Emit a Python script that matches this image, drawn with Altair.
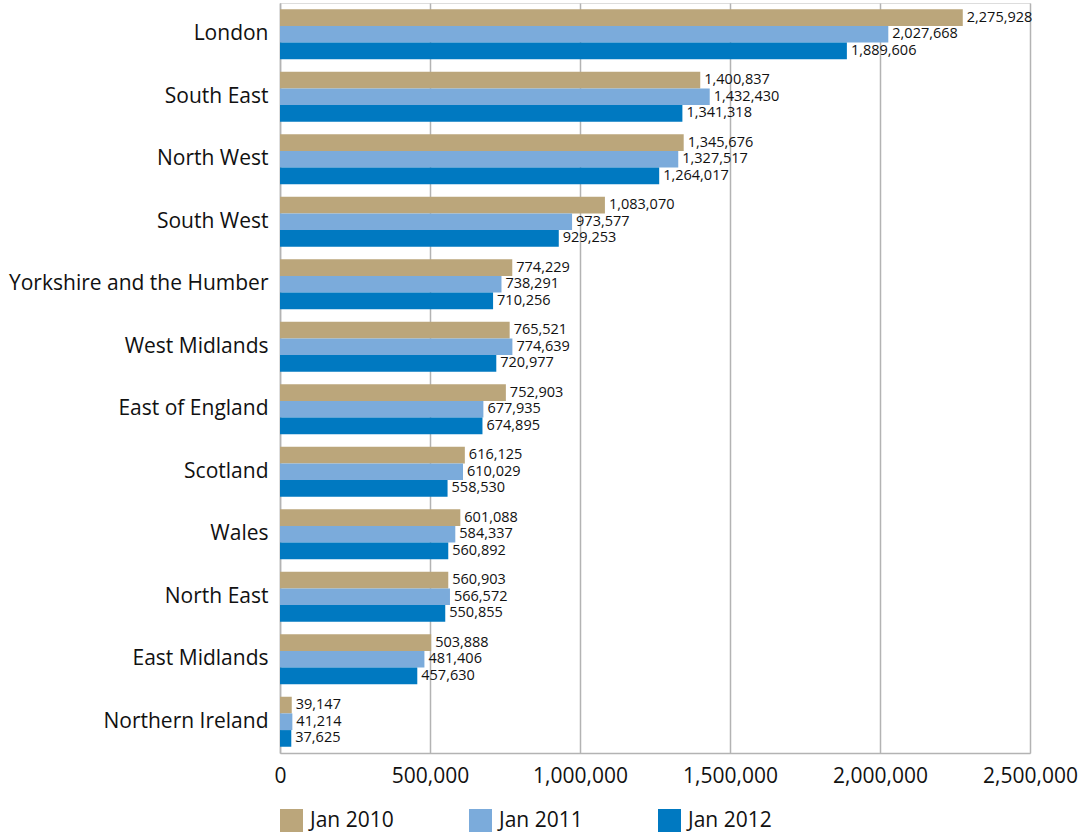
import altair as alt
import pandas as pd

regions = ["London", "South East", "North West", "South West", "Yorkshire and the Humber",
           "West Midlands", "East of England", "Scotland", "Wales", "North East",
           "East Midlands", "Northern Ireland"]
series = ["Jan 2010", "Jan 2011", "Jan 2012"]
jan2010 = [2275928, 1400837, 1345676, 1083070, 774229, 765521, 752903, 616125, 601088, 560903, 503888, 39147]
jan2011 = [2027668, 1432430, 1327517, 973577, 738291, 774639, 677935, 610029, 584337, 566572, 481406, 41214]
jan2012 = [1889606, 1341318, 1264017, 929253, 710256, 720977, 674895, 558530, 560892, 550855, 457630, 37625]
tick_values = [0, 500000, 1000000, 1500000, 2000000, 2500000]
colors = ["#BBA67B", "#7BABDB", "#0079C1"]

rows = []
for i, r in enumerate(regions):
    for s, vals in zip(series, [jan2010, jan2011, jan2012]):
        rows.append({"region": r, "series": s, "value": vals[i]})
df = pd.DataFrame(rows)

FONT = "Open Sans"

y = alt.Y("region:N", sort=regions, title=None,
          scale=alt.Scale(paddingInner=0.2, paddingOuter=0.1),
          axis=alt.Axis(labelFontSize=21, labelFont=FONT, labelColor="#111", labelPadding=12,
                        ticks=False, domain=True, domainColor="#b3b3b3", domainWidth=1.5,
                        labelLimit=400))
x = alt.X("value:Q", title=None,
          scale=alt.Scale(domain=[0, 2500000], nice=False),
          axis=alt.Axis(values=tick_values, format=",.0f", labelFlush=False,
                        labelFontSize=21, labelFont=FONT, labelColor="#111", labelPadding=12,
                        ticks=False, domainColor="#b3b3b3", domainWidth=1.5,
                        grid=True, gridColor="#b3b3b3", gridWidth=1.5))

bars = alt.Chart(df).mark_bar().encode(
    y=y, x=x,
    yOffset=alt.YOffset("series:N", sort=series, scale=alt.Scale(paddingInner=0, paddingOuter=0)),
    color=alt.Color("series:N", sort=series, title=None,
                    scale=alt.Scale(domain=series, range=colors),
                    legend=alt.Legend(orient="none", legendX=0, legendY=806, direction="horizontal",
                                      symbolType="square", symbolSize=529, symbolStrokeWidth=0,
                                      labelFontSize=21, labelFont=FONT, labelColor="#111",
                                      labelOffset=7, columnPadding=75, symbolOpacity=1)),
)

labels = alt.Chart(df).mark_text(align="left", baseline="middle", dx=4, fontSize=14.5,
                                 font=FONT, color="#111").encode(
    y=alt.Y("region:N", sort=regions),
    yOffset=alt.YOffset("series:N", sort=series),
    x=alt.X("value:Q"),
    text=alt.Text("value:Q", format=","),
)

chart = alt.layer(bars, labels).properties(
    width=750, height=750,
    autosize=alt.AutoSizeParams(type="none"),
    padding={"left": 280, "top": 3, "right": 51, "bottom": 81},
).configure_view(stroke=None).configure(background="white")

chart.save("out.html", embed_options={"renderer": "svg", "actions": False})
